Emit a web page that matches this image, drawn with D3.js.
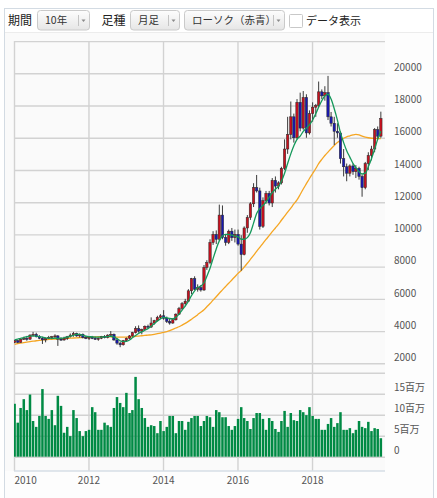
<!DOCTYPE html>
<html>
<head>
<meta charset="utf-8">
<script src="https://cdnjs.cloudflare.com/ajax/libs/d3/7.8.5/d3.min.js"></script>
<style>
  body { margin: 0; background: #fff; }
  svg { display: block; font-family: "Noto Sans CJK JP", "Noto Sans", sans-serif; }
</style>
</head>
<body>
<div id="container"></div>
<script>
// monthly candles, Jan 2010 .. Nov 2019
let months = d3.timeMonth.range(new Date(2010, 0, 1), new Date(2019, 11, 1));

let opens = [
  3300,3400,3300,3500,3550,3500,3750,3800,3650,3550,3450,3550,
  3600,3650,3700,3500,3450,3550,3650,3750,3850,3700,3800,3600,
  3550,3600,3550,3500,3550,3650,3600,3750,3800,3450,3250,3150,
  3400,3550,3700,3900,4150,4000,4100,4300,4250,4500,4650,4850,
  4950,4800,4600,4500,4700,5050,5400,5700,5850,6500,7250,6600,
  6700,6550,7950,8250,9500,10000,9700,11200,9800,9500,10200,9800,
  10000,9400,8750,10400,11050,11900,12900,12700,10500,12100,12550,11950,
  13350,13000,13200,14100,15300,16200,17300,16000,18200,16600,18500,16300,
  17500,17900,18000,18850,18600,18800,17300,16900,16400,16300,14700,14200,
  13800,14250,13900,14100,13600,12900,14400,14900,15300,16500,16100
];
let highs = [
  3450,3450,3550,3650,3700,3800,3950,3900,3750,3650,3600,3700,
  3700,3800,3750,3600,3650,3700,3850,3950,3900,3850,3850,3700,
  3650,3700,3650,3600,3700,3750,3800,4000,3850,3500,3350,3450,
  3600,3750,3950,4300,4350,4150,4350,4400,4850,4700,4950,5050,
  5300,4900,4750,4800,5100,5500,5800,6000,6600,7300,7400,6900,
  6850,8100,8400,9700,10200,10250,11850,11800,10000,10300,10400,10300,
  10300,9950,10500,11200,12000,13180,13690,12900,12300,12700,12700,13500,
  13600,13300,14200,15900,17300,18250,17500,18400,18800,18900,18700,17700,
  18200,18100,19490,19000,19200,19840,17600,17300,16900,16400,15300,14400,
  14350,14400,14300,14200,13700,14500,15100,15500,16600,16700,17620
];
let lows = [
  3250,3250,3280,3450,3400,3450,3650,3600,3500,3200,3300,3500,
  3500,3550,3080,3400,3400,3450,3600,3650,3650,3600,3550,3500,
  3450,3500,3450,3400,3500,3550,3550,3650,3400,3150,3000,3100,
  3350,3500,3650,3850,3900,3800,4050,4150,4200,4400,4600,4750,
  4700,4500,4400,4450,4650,5000,5300,5550,5800,6300,6550,6450,
  6450,6500,7800,8150,9350,9400,9600,9700,9300,9400,9600,9500,
  9300,7750,8700,10100,10900,11700,12600,10300,10400,11900,11800,11700,
  12600,12800,13100,14000,15000,15900,15700,15900,16400,16500,16000,16200,
  17000,17300,17900,18400,18300,17100,16700,15550,16000,14400,13600,13300,
  13600,13700,13500,13400,12340,12800,14000,14600,15100,15900,16000
];
let closes = [
  3400,3300,3500,3550,3500,3750,3800,3650,3550,3450,3550,3600,
  3650,3700,3500,3450,3550,3650,3750,3850,3700,3800,3600,3550,
  3600,3550,3500,3550,3650,3600,3750,3800,3450,3250,3150,3400,
  3550,3700,3900,4150,4000,4100,4300,4250,4500,4650,4850,4950,
  4800,4600,4500,4700,5050,5400,5700,5850,6500,7250,6600,6700,
  6550,7950,8250,9500,10000,9700,11200,9800,9500,10200,9800,10000,
  9400,8750,10400,11050,11900,12900,12700,10500,12100,12550,11950,13350,
  13000,13200,14100,15300,16200,17300,16000,18200,16600,18500,16300,17500,
  17900,18000,18850,18600,18800,17300,16900,16400,16300,14700,14200,13800,
  14250,13900,14100,13600,12900,14400,14900,15300,16500,16100,17200
];
// volume, in millions of shares (百万)
let volumes = [
  12.6,8.1,11.6,13.7,11.1,14.8,8.5,7.1,9.7,16.1,9.7,9.0,
  11.1,7.5,14.5,12.1,5.7,7.1,4.9,11.1,9.2,6.1,4.9,6.1,
  6.4,11.8,10.6,6.4,6.4,8.1,7.5,7.1,11.6,14.2,12.8,11.8,
  15.2,10.4,11.1,19.0,13.7,11.6,9.2,7.1,7.5,7.3,5.6,8.5,
  6.1,7.1,9.7,9.7,5.6,8.5,8.5,6.4,8.3,9.2,9.7,9.7,
  7.3,8.5,9.7,9.4,7.1,11.1,10.6,9.4,9.4,7.3,6.4,7.3,
  9.0,11.8,9.2,8.5,6.6,9.2,10.4,10.4,9.0,6.4,9.2,8.5,
  6.6,5.9,8.5,10.9,7.1,10.4,8.7,8.5,11.1,10.6,9.9,11.8,
  9.7,9.0,9.0,6.4,6.4,7.8,9.2,7.1,8.0,10.6,6.4,6.4,
  6.8,5.6,6.4,8.5,7.1,6.8,8.3,6.1,6.8,6.6,4.4
];
// short moving average (green)
let maShort = [
  3450,3500,3550,3600,3650,3690,3700,3690,3660,3620,3580,3560,
  3550,3560,3550,3560,3580,3620,3680,3740,3800,3790,3740,3690,
  3660,3640,3620,3620,3630,3640,3660,3680,3640,3530,3400,3340,
  3360,3450,3580,3720,3850,3950,4050,4150,4300,4450,4620,4760,
  4850,4820,4780,4760,4850,5050,5300,5550,5850,6200,6500,6700,
  6800,7000,7400,7900,8500,9100,9600,9900,10000,10000,9950,9900,
  9850,9700,9700,9800,10100,10700,11300,11600,11800,12000,12300,12600,
  12800,13000,13300,13800,14400,15000,15500,15900,16100,16400,16600,16800,
  17100,17500,17900,18300,18600,18700,18400,17800,17100,16300,15700,15200,
  14800,14400,14150,13900,13750,13800,14200,14700,15300,15900,16400
];
// long moving average (orange)
let maLong = [
  3180,3220,3250,3280,3310,3340,3370,3400,3420,3450,3470,3480,
  3490,3500,3510,3520,3540,3550,3560,3570,3580,3590,3600,3610,
  3620,3630,3640,3650,3650,3650,3650,3640,3630,3620,3620,3620,
  3630,3640,3650,3670,3690,3710,3730,3750,3770,3800,3840,3880,
  3920,3960,4030,4110,4190,4270,4370,4480,4600,4730,4870,5020,
  5170,5330,5510,5710,5920,6130,6350,6560,6770,6970,7170,7370,
  7580,7760,7970,8210,8450,8700,8950,9200,9450,9690,9930,10170,
  10400,10640,10880,11130,11380,11630,11890,12140,12480,12820,13150,13470,
  13780,14090,14390,14660,14900,15110,15320,15520,15700,15850,15970,16060,
  16120,16180,16210,16180,16100,16040,16000,15970,15960,15950,15950
];

let priceTicks = [2000,4000,6000,8000,10000,12000,14000,16000,18000,20000,22000];
let volumeTicks = [0,5,10,15,20];
let yearTicks = [2010,2012,2014,2016,2018];

let w = 437;
let h = 498;
let plotLeft = 14;
let plotRight = 385;
let plotTop = 41.1;
let plotBottom = 471;

let svg = d3.select("#container")
  .append("svg")
    .attr("width", w)
    .attr("height", h)
;

// frame and toolbar
svg.append("rect")
    .attr("x", 4.5).attr("y", 8.5)
    .attr("width", 429).attr("height", 500)
    .attr("fill", "#fdfdfd")
    .attr("stroke", "#d3dbe3")
;
svg.append("rect")
    .attr("x", 5).attr("y", 9)
    .attr("width", 428).attr("height", 23)
    .attr("fill", "#fff")
;
svg.append("line")
    .attr("x1", 5).attr("x2", 433)
    .attr("y1", 32.5).attr("y2", 32.5)
    .attr("stroke", "#ececec")
;

let defs = svg.append("defs");
let grad = defs.append("linearGradient")
    .attr("id", "btn")
    .attr("x1", 0).attr("x2", 0).attr("y1", 0).attr("y2", 1);
grad.append("stop").attr("offset", "0%").attr("stop-color", "#fdfdfd");
grad.append("stop").attr("offset", "100%").attr("stop-color", "#e6e6e6");

defs.append("clipPath")
    .attr("id", "plotclip")
  .append("rect")
    .attr("x", plotLeft).attr("y", 30)
    .attr("width", plotRight - plotLeft).attr("height", plotBottom - 30);

let toolbar = svg.append("g").attr("class", "toolbar");

function label(x, txt){
  toolbar.append("text")
      .attr("x", x).attr("y", 25.2)
      .attr("font-size", 12)
      .attr("fill", "#222")
      .text(txt);
}

function dropdown(x0, x1, txt){
  let g = toolbar.append("g");
  g.append("rect")
      .attr("x", x0 + 0.5).attr("y", 10.5)
      .attr("width", x1 - x0).attr("height", 19.5)
      .attr("rx", 3)
      .attr("fill", "url(#btn)")
      .attr("stroke", "#cacaca");
  g.append("text")
      .attr("x", x0 + 8).attr("y", 24.3)
      .attr("font-size", 10.5)
      .attr("fill", "#333")
      .text(txt);
  g.append("line")
      .attr("x1", x1 - 10.5).attr("x2", x1 - 10.5)
      .attr("y1", 15).attr("y2", 26)
      .attr("stroke", "#c4c4c4");
  g.append("path")
      .attr("d", "M" + (x1 - 7.5) + ",19.5 l4,0 l-2,2.5 z")
      .attr("fill", "#8a8a8a");
}

label(8, "期間");
dropdown(37, 89, "10年");
label(101.5, "足種");
dropdown(130, 179, "月足");
dropdown(184, 284, "ローソク（赤青）");
toolbar.append("rect")
    .attr("x", 289.5).attr("y", 14.5)
    .attr("width", 13).attr("height", 13)
    .attr("rx", 1)
    .attr("fill", "#fff")
    .attr("stroke", "#c8c8c8");
toolbar.append("text")
    .attr("x", 306).attr("y", 24.8)
    .attr("font-size", 11)
    .attr("fill", "#222")
    .text("データ表示");

// plot background
svg.append("rect")
    .attr("x", 5).attr("y", 33)
    .attr("width", plotRight - 5).attr("height", plotBottom - 33)
    .attr("fill", "#fafafa")
;

// scales
let xScale = d3.scaleTime()
    .domain([new Date(2010, 0, 1), new Date(2020, 0, 1)])
    .range([plotLeft, plotLeft + 3.104 * 120]);
let yScale = d3.scaleLinear().domain([2000, 22000]).range([363.3, plotTop]);
let vScale = d3.scaleLinear().domain([0, 20]).range([456.7, 372.7]);

// axes, drawn as grids
let xAxis = d3.axisBottom(xScale)
    .tickValues(yearTicks.map(function(y){ return new Date(y, 0, 1); }))
    .tickFormat(d3.timeFormat("%Y"))
    .tickSize(-(plotBottom - plotTop))
    .tickPadding(6);
let xAxisGroup = svg.append("g")
    .attr("class", "xaxisgroup")
    .attr("transform", "translate(0," + plotBottom + ")")
    .call(xAxis);

let yAxis = d3.axisRight(yScale)
    .tickValues(priceTicks)
    .tickFormat(function(d){ return d === 22000 ? "" : d; })
    .tickSize(-(plotRight - plotLeft))
    .tickPadding(9);
let yAxisGroup = svg.append("g")
    .attr("class", "yaxisgroup")
    .attr("transform", "translate(" + plotRight + ",0)")
    .call(yAxis);

let vAxis = d3.axisRight(vScale)
    .tickValues(volumeTicks)
    .tickFormat(function(d){
      if (d === 20) return "";
      return d === 0 ? "0" : d + "百万";
    })
    .tickSize(-(plotRight - plotLeft))
    .tickPadding(9);
let vAxisGroup = svg.append("g")
    .attr("class", "vaxisgroup")
    .attr("transform", "translate(" + plotRight + ",0)")
    .call(vAxis);

svg.selectAll(".xaxisgroup, .yaxisgroup, .vaxisgroup").select(".domain").remove();
svg.selectAll(".xaxisgroup line, .yaxisgroup line, .vaxisgroup line")
    .attr("stroke", "#d2d2d2")
    .attr("stroke-width", 1.4);
svg.selectAll(".xaxisgroup text, .yaxisgroup text, .vaxisgroup text")
    .attr("font-family", "\"Noto Sans CJK JP\", sans-serif")
    .attr("font-size", 10)
    .attr("fill", "#555");
svg.selectAll(".yaxisgroup text, .vaxisgroup text")
    .attr("dy", "-0.28em");
xAxisGroup.selectAll("text")
    .attr("text-anchor", function(d, i){ return i === 0 ? "start" : "middle"; });

// bottom line of the panel
svg.append("line")
    .attr("x1", plotLeft).attr("x2", plotRight)
    .attr("y1", plotBottom).attr("y2", plotBottom)
    .attr("stroke", "#d6dee6")
    .attr("stroke-width", 1.4);

let plot = svg.append("g").attr("clip-path", "url(#plotclip)");

function getX(d, i){
  return xScale(months[i]) + 0.6;
}

// volume bars
plot.append("g").selectAll("rect")
  .data(volumes)
  .enter()
  .append("rect")
    .attr("x", function(d, i){ return getX(d, i) - 1.25; })
    .attr("width", 2.5)
    .attr("y", function(d){ return vScale(d); })
    .attr("height", function(d){ return vScale(0) - vScale(d); })
    .attr("fill", "#008a44")
;

// moving averages
let lineMaker = d3.line()
    .x(getX)
    .y(function(d){ return yScale(d); })
    .curve(d3.curveMonotoneX);

plot.append("path")
    .datum(maLong)
    .attr("d", lineMaker)
    .attr("fill", "none")
    .attr("stroke", "#f5a623")
    .attr("stroke-width", 1.3)
;

// candles
let candles = plot.append("g").selectAll("g")
  .data(closes)
  .enter()
  .append("g");

candles.append("line")
    .attr("x1", getX).attr("x2", getX)
    .attr("y1", function(d, i){ return yScale(highs[i]); })
    .attr("y2", function(d, i){ return yScale(lows[i]); })
    .attr("stroke", "#3a3a3a")
    .attr("stroke-width", 1)
;
candles.append("rect")
    .attr("x", function(d, i){ return getX(d, i) - 1.2; })
    .attr("width", 2.4)
    .attr("y", function(d, i){ return yScale(Math.max(opens[i], d)); })
    .attr("height", function(d, i){
      return Math.max(1, Math.abs(yScale(opens[i]) - yScale(d)));
    })
    .attr("fill", function(d, i){ return d >= opens[i] ? "#c8101e" : "#1818b0"; })
    .attr("stroke", "#2a2a2a")
    .attr("stroke-width", 0.5)
;

plot.append("path")
    .datum(maShort)
    .attr("d", lineMaker)
    .attr("fill", "none")
    .attr("stroke", "#15985a")
    .attr("stroke-width", 1.3)
;
</script>
</body>
</html>
